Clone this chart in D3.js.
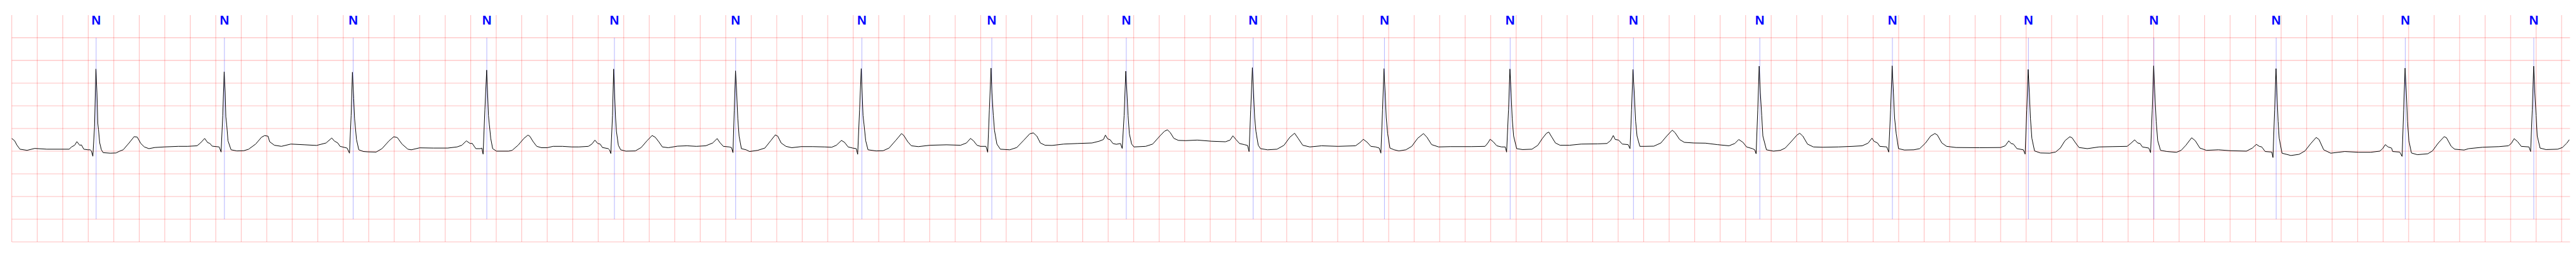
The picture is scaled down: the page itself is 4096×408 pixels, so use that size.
<!DOCTYPE html>
<html>
<head>
<meta charset="utf-8">
<script src="https://cdn.jsdelivr.net/npm/d3@7"></script>
<style>
  html, body { margin: 0; padding: 0; background: #ffffff; }
  svg { display: block; }
</style>
</head>
<body>
<svg id="chart" width="4096" height="408"></svg>
<script>
// ---- data (time in seconds, amplitude in mV) ----
const beatTimes = [0.662, 1.668, 2.678, 3.726, 4.727, 5.678, 6.668, 7.687, 8.742, 9.737,
                   10.767, 11.753, 12.720, 13.711, 14.751, 15.818, 16.802, 17.761, 18.774, 19.782];
const beatSymbols = ["N","N","N","N","N","N","N","N","N","N","N","N","N","N","N","N","N","N","N","N"];
const yGridValues = [-2, -1.5, -1, -0.5, 0, 0.5, 1, 1.5, 2, 2.5];
const timeDomain = [0, 20.066];
const mvDomain = [-2, 3];
const gridStep = 0.2;
const annotationSpan = [-1.5, 2.5];

const ecgPoints = [
[0.000,0.28],[0.022,0.23],[0.040,0.136],[0.064,0.043],[0.120,0.018],[0.180,0.06],[0.276,0.043],[0.386,0.043],[0.450,0.043],[0.469,0.093],[0.493,0.13],[0.511,0.21],[0.533,0.13],[0.546,0.138],[0.565,0.043],[0.598,0.03],[0.616,0.03],[0.625,0],[0.636,-0.113],[0.649,0.53],[0.660,1.81],[0.668,1.29],[0.675,0.61],[0.680,0.48],[0.690,0.18],[0.703,0.03],[0.717,-0.033],[0.772,-0.045],[0.818,-0.04],[0.846,0],[0.874,0.03],[0.920,0.18],[0.960,0.32],[0.984,0.31],[1.012,0.17],[1.040,0.093],[1.076,0.055],[1.122,0.08],[1.196,0.093],[1.306,0.106],[1.379,0.106],[1.453,0.118],[1.480,0.18],[1.513,0.28],[1.536,0.19],[1.554,0.17],[1.572,0.11],[1.627,0.093],[1.642,-0.02],[1.655,0.786],[1.666,1.75],[1.674,1.29],[1.679,0.76],[1.686,0.58],[1.696,0.23],[1.720,0.03],[1.766,0.005],[1.821,0.01],[1.858,0.043],[1.913,0.156],[1.959,0.307],[1.983,0.343],[2.010,0.33],[2.023,0.207],[2.060,0.13],[2.115,0.106],[2.189,0.156],[2.300,0.14],[2.391,0.126],[2.465,0.18],[2.510,0.29],[2.529,0.227],[2.557,0.18],[2.575,0.106],[2.630,0.068],[2.649,-0.045],[2.662,0.786],[2.672,1.74],[2.682,1.16],[2.689,0.71],[2.704,0.257],[2.722,0.03],[2.759,-0.008],
[2.794,-0.015],[2.858,-0.02],[2.904,0.055],[2.960,0.23],[2.996,0.317],[3.024,0.30],[3.061,0.156],[3.107,0.043],[3.134,0.03],[3.199,0.073],[3.309,0.068],[3.419,0.068],[3.493,0.093],[3.530,0.13],[3.566,0.227],[3.594,0.17],[3.612,0.17],[3.640,0.055],[3.676,0.055],[3.687,0.068],[3.697,-0.065],[3.711,0.91],[3.725,1.786],[3.732,1.29],[3.739,0.786],[3.746,0.584],[3.757,0.28],[3.772,0.055],[3.802,0],[3.897,0],[3.925,0.018],[3.971,0.13],[4.017,0.28],[4.048,0.353],[4.063,0.33],[4.090,0.207],[4.118,0.106],[4.155,0.076],[4.200,0.076],[4.246,0.106],[4.320,0.106],[4.393,0.093],[4.449,0.093],[4.523,0.106],[4.550,0.156],[4.574,0.242],[4.596,0.17],[4.615,0.156],[4.633,0.08],[4.679,0.055],[4.688,0.03],[4.699,-0.053],[4.712,0.786],[4.721,1.81],[4.728,1.29],[4.736,0.735],[4.743,0.43],[4.758,0.13],[4.776,0.03],[4.817,0],[4.891,0.005],[4.937,0.08],[4.983,0.23],[5.023,0.345],[5.047,0.307],[5.075,0.207],[5.103,0.093],[5.149,0.076],[5.222,0.11],[5.296,0.118],[5.370,0.106],[5.443,0.118],[5.498,0.18],[5.533,0.277],[5.553,0.194],[5.581,0.106],[5.627,0.093],[5.645,0.08],[5.657,-0.033],[5.667,0.9],
[5.677,1.77],[5.686,1.29],[5.695,0.71],[5.705,0.33],[5.723,0.055],[5.760,0.03],[5.787,-0.008],[5.851,0.018],[5.907,0.068],[5.953,0.23],[5.989,0.358],[6.008,0.33],[6.035,0.18],[6.072,0.106],[6.118,0.076],[6.192,0.1],[6.284,0.1],[6.376,0.093],[6.431,0.086],[6.468,0.13],[6.508,0.237],[6.532,0.194],[6.560,0.093],[6.596,0.068],[6.624,0.055],[6.635,-0.07],[6.650,0.91],[6.663,1.82],[6.670,1.29],[6.677,0.786],[6.685,0.584],[6.698,0.23],[6.716,0.03],[6.780,0.005],[6.835,0.01],[6.881,0.068],[6.936,0.244],[6.979,0.388],[6.997,0.345],[7.028,0.207],[7.056,0.118],[7.111,0.1],[7.203,0.13],[7.332,0.14],[7.442,0.13],[7.488,0.18],[7.520,0.28],[7.543,0.23],[7.571,0.13],[7.598,0.106],[7.641,0.106],[7.655,-0.025],[7.668,0.91],[7.681,1.83],[7.688,1.29],[7.699,0.786],[7.708,0.46],[7.727,0.156],[7.754,0.043],[7.828,0.03],[7.883,0.08],[7.939,0.244],[7.985,0.383],[8.013,0.403],[8.040,0.333],[8.068,0.18],[8.105,0.13],[8.160,0.126],[8.252,0.156],[8.362,0.169],[8.473,0.18],[8.530,0.22],
[8.563,0.257],[8.578,0.353],[8.596,0.27],[8.615,0.252],[8.637,0.169],[8.664,0.151],[8.696,0.169],[8.710,0.06],[8.725,0.786],[8.738,1.763],[8.747,1.29],[8.756,0.786],[8.766,0.383],[8.784,0.156],[8.802,0.093],[8.894,0.106],[8.949,0.156],[9.005,0.333],[9.041,0.438],[9.065,0.471],[9.087,0.408],[9.115,0.282],[9.151,0.237],[9.207,0.232],[9.299,0.244],[9.409,0.219],[9.520,0.207],[9.556,0.244],[9.578,0.338],[9.602,0.257],[9.630,0.169],[9.667,0.144],[9.693,0.126],[9.705,-0.01],[9.718,0.91],[9.731,1.84],[9.740,1.29],[9.749,0.735],[9.759,0.433],[9.777,0.13],[9.795,0.055],[9.850,0.03],[9.924,0.043],[9.979,0.13],[10.025,0.307],[10.062,0.395],[10.090,0.282],[10.126,0.13],[10.182,0.093],[10.274,0.118],[10.402,0.106],[10.540,0.118],[10.577,0.194],[10.601,0.262],[10.632,0.194],[10.660,0.106],[10.697,0.093],[10.726,0.068],[10.739,-0.045],[10.752,0.91],[10.763,1.82],[10.772,1.29],[10.781,0.735],[10.792,0.383],[10.810,0.068],[10.843,0.03],[10.880,0.005],[10.935,0.03],[10.981,0.106],[11.027,0.282],[11.073,0.388],[11.100,0.307],[11.137,0.144],[11.192,0.093],[11.284,0.1],[11.447,0.1],
[11.556,0.106],[11.578,0.18],[11.596,0.262],[11.620,0.207],[11.648,0.118],[11.685,0.093],[11.714,0.093],[11.725,-0.02],[11.740,0.91],[11.751,1.81],[11.760,1.29],[11.769,0.71],[11.780,0.333],[11.804,0.055],[11.850,0.035],[11.924,0.043],[11.970,0.13],[12.006,0.282],[12.038,0.395],[12.056,0.42],[12.080,0.307],[12.108,0.18],[12.144,0.13],[12.218,0.13],[12.310,0.156],[12.439,0.161],[12.512,0.169],[12.540,0.232],[12.562,0.345],[12.577,0.257],[12.604,0.244],[12.632,0.156],[12.678,0.144],[12.693,0.055],[12.705,0.91],[12.716,1.80],[12.726,1.29],[12.737,0.66],[12.748,0.333],[12.770,0.106],[12.807,0.106],[12.880,0.11],[12.935,0.18],[12.981,0.333],[13.024,0.463],[13.046,0.408],[13.082,0.257],[13.119,0.194],[13.193,0.18],[13.285,0.176],[13.377,0.144],[13.469,0.118],[13.515,0.169],[13.546,0.257],[13.579,0.194],[13.607,0.093],[13.653,0.055],[13.671,0.03],[13.682,-0.058],[13.695,0.91],[13.706,1.874],[13.715,1.29],[13.726,0.786],[13.735,0.333],[13.763,0.03],[13.818,0],[13.873,0.018],[13.910,0.068],[13.956,0.207],[14.002,0.353],[14.024,0.395],[14.048,0.333],[14.085,0.156],[14.131,0.093],[14.204,0.086],[14.329,0.093],
[14.440,0.106],[14.514,0.118],[14.560,0.176],[14.591,0.287],[14.606,0.219],[14.634,0.18],[14.652,0.106],[14.707,0.093],[14.722,-0.02],[14.737,0.91],[14.749,1.88],[14.759,1.29],[14.768,0.735],[14.781,0.383],[14.799,0.055],[14.845,0.025],[14.919,0.03],[14.965,0.055],[15.011,0.18],[15.051,0.333],[15.084,0.388],[15.103,0.358],[15.139,0.18],[15.176,0.106],[15.250,0.08],[15.434,0.076],[15.599,0.08],[15.636,0.118],[15.664,0.227],[15.682,0.169],[15.700,0.156],[15.728,0.055],[15.778,0.03],[15.792,-0.065],[15.805,0.91],[15.816,1.80],[15.825,1.29],[15.834,0.71],[15.845,0.282],[15.866,0.005],[15.912,-0.04],[15.985,-0.045],[16.031,-0.02],[16.068,0.068],[16.105,0.232],[16.142,0.317],[16.160,0.295],[16.188,0.18],[16.215,0.08],[16.280,0.055],[16.372,0.093],[16.482,0.1],[16.592,0.106],[16.620,0.169],[16.651,0.249],[16.675,0.18],[16.693,0.169],[16.712,0.093],[16.762,0.068],[16.776,-0.033],[16.789,0.91],[16.800,1.88],[16.809,1.29],[16.820,0.66],[16.832,0.232],[16.854,0.018],[16.905,-0.008],[16.979,-0.025],[17.016,0.018],[17.053,0.13],[17.098,0.295],[17.126,0.232],[17.163,0.068],[17.214,0.018],
[17.308,0.03],[17.400,0.01],[17.528,0],[17.574,0.068],[17.606,0.149],[17.629,0.106],[17.648,0.093],[17.675,-0.008],[17.727,-0.02],[17.736,-0.141],[17.749,0.91],[17.760,1.82],[17.767,1.29],[17.776,0.66],[17.785,0.282],[17.807,-0.045],[17.877,-0.096],[17.941,-0.07],[17.987,0.005],[18.033,0.169],[18.075,0.302],[18.097,0.257],[18.134,0.03],[18.189,-0.045],[18.299,-0.008],[18.409,-0.025],[18.501,-0.025],[18.574,0],[18.596,0.055],[18.617,0.144],[18.639,0.093],[18.666,0.068],[18.675,-0.008],[18.730,-0.02],[18.749,-0.116],[18.761,0.91],[18.772,1.83],[18.782,1.29],[18.791,0.66],[18.802,0.232],[18.822,-0.04],[18.868,-0.078],[18.950,-0.058],[18.987,0.005],[19.033,0.18],[19.079,0.32],[19.097,0.295],[19.134,0.106],[19.161,0.043],[19.235,0.025],[19.271,0.055],[19.380,0.086],[19.510,0.1],[19.583,0.118],[19.605,0.169],[19.628,0.275],[19.656,0.207],[19.683,0.106],[19.744,0.093],[19.757,-0.008],[19.770,0.91],[19.781,1.874],[19.790,1.29],[19.800,0.786],[19.809,0.333],[19.831,0.068],[19.877,0.035],[19.969,0.043],[20.006,0.08],[20.042,0.18],[20.060,0.252]
];

// ---- layout ----
const W = 4096, H = 408;
const margin = { left: 18.7, right: 9.5, top: 23.9, bottom: 24.0 };
const svg = d3.select("#chart");

const x = d3.scaleLinear().domain(timeDomain).range([margin.left, W - margin.right]);
const y = d3.scaleLinear().domain(mvDomain).range([H - margin.bottom, margin.top]);

const xGridValues = d3.range(timeDomain[0], timeDomain[1] + 1e-9, gridStep);

const grid = svg.append("g").attr("class", "grid");
grid.selectAll("line.v").data(xGridValues).join("line")
  .attr("class", "v")
  .attr("x1", d => x(d)).attr("x2", d => x(d))
  .attr("y1", y(mvDomain[1])).attr("y2", y(mvDomain[0]))
  .attr("stroke", "rgb(255,0,0)").attr("stroke-opacity", 0.25).attr("stroke-width", 1.1);
grid.selectAll("line.h").data(yGridValues).join("line")
  .attr("class", "h")
  .attr("x1", x(timeDomain[0])).attr("x2", x(timeDomain[1]))
  .attr("y1", d => y(d)).attr("y2", d => y(d))
  .attr("stroke", "rgb(255,0,0)").attr("stroke-opacity", 0.25).attr("stroke-width", 1.1);

// annotation markers
const ann = svg.append("g").attr("class", "annotations");
ann.selectAll("line").data(beatTimes).join("line")
  .attr("x1", d => x(d)).attr("x2", d => x(d))
  .attr("y1", y(annotationSpan[1])).attr("y2", y(annotationSpan[0]))
  .attr("stroke", "rgb(0,0,255)").attr("stroke-opacity", 0.5).attr("stroke-width", 0.6);
ann.selectAll("text").data(beatTimes).join("text")
  .attr("x", d => x(d)).attr("y", 39.2)
  .attr("text-anchor", "middle")
  .attr("font-family", "'Liberation Sans', Arial, sans-serif")
  .attr("font-weight", "bold")
  .attr("font-size", 20.5)
  .attr("fill", "#0000ff")
  .text((d, i) => beatSymbols[i]);

// ECG trace
const line = d3.line().x(d => x(d[0])).y(d => y(d[1]));
svg.append("path")
  .datum(ecgPoints)
  .attr("d", line)
  .attr("fill", "none")
  .attr("stroke", "#000000")
  .attr("stroke-width", 1.0)
  .attr("stroke-linejoin", "round");
</script>
</body>
</html>
